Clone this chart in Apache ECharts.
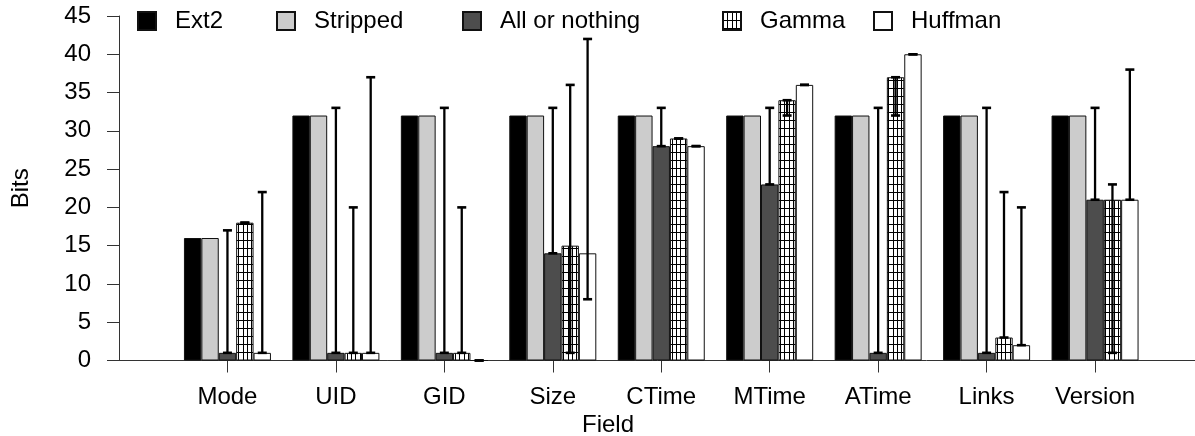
<!DOCTYPE html>
<html>
<head>
<meta charset="utf-8">
<style>
  html, body { margin: 0; padding: 0; background: #fff; }
  #chart { width: 1195px; height: 436px; }
</style>
<script src="https://cdn.jsdelivr.net/npm/echarts@6/dist/echarts.min.js"></script>
</head>
<body>
<div id="chart"></div>
<script>
// Inode field sizes (bits) per encoding scheme
const fields = ['Mode', 'UID', 'GID', 'Size', 'CTime', 'MTime', 'ATime', 'Links', 'Version'];
const seriesNames = ['Ext2', 'Stripped', 'All or nothing', 'Gamma', 'Huffman'];

const ext2 = [16, 32, 32, 32, 32, 32, 32, 32, 32];
const stripped = [16, 32, 32, 32, 32, 32, 32, 32, 32];

const allOrNothing = [1, 1, 1, 14, 28, 23, 1, 1, 21];
const allOrNothingLow = [1, 1, 1, 14, 28, 23, 1, 1, 21];
const allOrNothingHigh = [17, 33, 33, 33, 33, 33, 33, 33, 33];

const gamma = [18, 1, 1, 15, 29, 34, 37, 3, 21];
const gammaLow = [18, 1, 1, 1, 29, 32, 32, 3, 1];
const gammaHigh = [18, 20, 20, 36, 29, 34, 37, 22, 23];

const huffman = [1, 1, 0, 14, 28, 36, 40, 2, 21];
const huffmanLow = [1, 1, 0, 8, 28, 36, 40, 2, 21];
const huffmanHigh = [22, 37, 0, 42, 28, 36, 40, 20, 38];

const yTicks = { min: 0, max: 45, step: 5 };

// Padding slots on both ends of the field axis
const categories = [''].concat(fields, ['']);

const FONT = 'Liberation Sans, Arial, Helvetica, sans-serif';
const BAR_W = 17.4;

// Cross-hatch tile for the Gamma bars
function gridPattern() {
  const c = document.createElement('canvas');
  c.width = 13; c.height = 8;
  const g = c.getContext('2d');
  g.fillStyle = '#fff';
  g.fillRect(0, 0, 13, 8);
  g.fillStyle = '#000';
  g.fillRect(0, 0, 13, 1);
  g.fillRect(0, 0, 1, 8);
  g.fillRect(4, 0, 1, 8);
  g.fillRect(9, 0, 1, 8);
  return c;
}

const fills = [
  '#000000',
  '#cccccc',
  '#4d4d4d',
  { image: gridPattern(), repeat: 'repeat' },
  '#ffffff'
];
const values = [ext2, stripped, allOrNothing, gamma, huffman];

function pairs(arr) { return arr.map((v, i) => [fields[i], v]); }

const barSeries = seriesNames.map((name, k) => ({
  name: name,
  type: 'bar',
  barWidth: BAR_W,
  barGap: '0%',
  data: pairs(values[k]),
  itemStyle: { color: fills[k], borderColor: '#111', borderWidth: 1 },
  emphasis: { disabled: true },
  z: 2
}));

// Min/max range whiskers drawn over the bars
function whiskers(name, slot, low, high) {
  return {
    name: name,
    type: 'custom',
    z: 5,
    silent: true,
    encode: { x: 0, y: [1, 2] },
    data: fields.map((f, i) => [f, low[i], high[i]]),
    renderItem: function (params, api) {
      const cat = api.value(0);
      const pLow = api.coord([cat, api.value(1)]);
      const pHigh = api.coord([cat, api.value(2)]);
      const x = pLow[0] + (slot - 2) * BAR_W;
      const cap = 4.5;
      const st = { stroke: '#000', lineWidth: 2.3 };
      return {
        type: 'group',
        children: [
          { type: 'line', shape: { x1: x, y1: pLow[1], x2: x, y2: pHigh[1] }, style: st },
          { type: 'line', shape: { x1: x - cap, y1: pHigh[1], x2: x + cap, y2: pHigh[1] }, style: { stroke: '#000', lineWidth: 2.6 } },
          { type: 'line', shape: { x1: x - cap, y1: pLow[1], x2: x + cap, y2: pLow[1] }, style: { stroke: '#000', lineWidth: 2.6 } }
        ]
      };
    }
  };
}

const legendLeft = [137, 276, 462, 722, 873];
const legends = seriesNames.map((name, k) => ({
  data: [name],
  left: legendLeft[k],
  top: 9,
  padding: 0,
  icon: 'rect',
  itemWidth: 18,
  itemHeight: 18,
  selectedMode: false,
  textStyle: { fontFamily: FONT, fontSize: 24, color: '#000', padding: [0, 0, 0, 14] }
}));

const chart = echarts.init(document.getElementById('chart'), null, { renderer: 'canvas' });
chart.setOption({
  animation: false,
  backgroundColor: '#fff',
  textStyle: { fontFamily: FONT },
  grid: { left: 119, top: 16, width: 1084.5, bottom: 75.5, containLabel: false, outerBoundsMode: 'none' },
  legend: legends,
  xAxis: {
    type: 'category',
    data: categories,
    boundaryGap: false,
    axisLine: { show: true, lineStyle: { color: '#333', width: 1 } },
    axisTick: {
      show: true, length: 12, inside: false,
      lineStyle: { color: '#333', width: 1 },
      interval: (idx, val) => val !== ''
    },
    axisLabel: {
      fontFamily: FONT, fontSize: 24, color: '#000', margin: 25,
      interval: 0
    },
    splitLine: { show: false }
  },
  yAxis: {
    type: 'value',
    min: yTicks.min,
    max: yTicks.max,
    interval: yTicks.step,
    name: 'Bits',
    nameLocation: 'middle',
    nameRotate: 90,
    nameGap: 86,
    nameTextStyle: { fontFamily: FONT, fontSize: 24, color: '#000' },
    axisLine: { show: true, lineStyle: { color: '#333', width: 1 } },
    axisTick: { show: true, length: 12, lineStyle: { color: '#333', width: 1 } },
    axisLabel: { fontFamily: FONT, fontSize: 24, color: '#000', margin: 28 },
    splitLine: { show: false }
  },
  graphic: [{
    type: 'text',
    x: 608,
    y: 425,
    style: {
      text: 'Field',
      fontFamily: FONT, fontSize: 24, fill: '#000',
      textAlign: 'center', textVerticalAlign: 'middle'
    }
  }],
  series: barSeries.concat([
    whiskers('All or nothing range', 2, allOrNothingLow, allOrNothingHigh),
    whiskers('Gamma range', 3, gammaLow, gammaHigh),
    whiskers('Huffman range', 4, huffmanLow, huffmanHigh)
  ])
});
</script>
</body>
</html>
